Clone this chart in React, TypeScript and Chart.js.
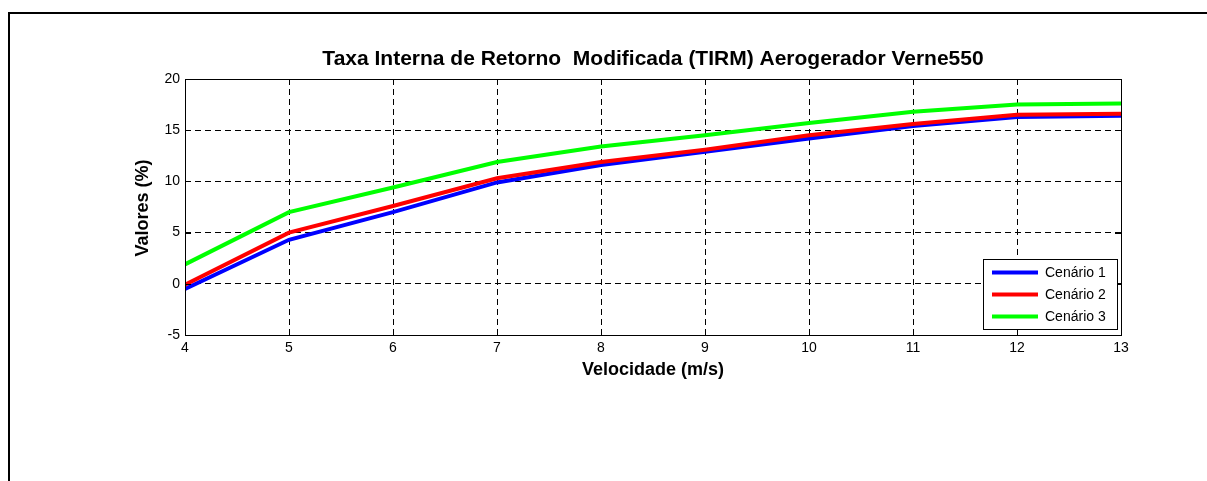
import { useEffect, useRef } from 'react';
import { Chart, registerables } from 'chart.js';

Chart.register(...registerables);

const velocities = [4, 5, 6, 7, 8, 9, 10, 11, 12, 13];
const cenario1 = [-0.5, 4.3, 7.0, 9.9, 11.6, 12.9, 14.2, 15.4, 16.3, 16.4];
const cenario2 = [-0.1, 5.0, 7.6, 10.3, 11.9, 13.1, 14.5, 15.6, 16.5, 16.6];
const cenario3 = [1.9, 7.0, 9.4, 11.9, 13.4, 14.5, 15.7, 16.8, 17.5, 17.6];
const seriesLabels = ['Cenário 1', 'Cenário 2', 'Cenário 3'];
const seriesColors = ['#0000ff', '#ff0000', '#00ff00'];
const chartTitle = 'Taxa Interna de Retorno  Modificada (TIRM) Aerogerador Verne550';
const xTitle = 'Velocidade (m/s)';
const yTitle = 'Valores (%)';
const xMin = 4;
const xMax = 13;
const yMin = -5;
const yMax = 20;

const FONT = '"Liberation Sans", Arial, Helvetica, sans-serif';

const decorPlugin = {
  id: 'decor',
  beforeDraw(chart: any) {
    const ctx = chart.ctx;
    ctx.save();
    ctx.fillStyle = '#ffffff';
    ctx.fillRect(0, 0, chart.width, chart.height);
    ctx.restore();
  },
  afterDraw(chart: any) {
    const ctx = chart.ctx;
    const { left, top, right, bottom } = chart.chartArea;
    const xs = chart.scales.x;
    const ys = chart.scales.y;
    ctx.save();
    // outer frame
    ctx.fillStyle = '#000';
    ctx.fillRect(8, 12, chart.width - 8, 2);
    ctx.fillRect(8, 12, 2, chart.height - 12);
    // plot box
    ctx.strokeStyle = '#000';
    ctx.lineWidth = 1;
    ctx.setLineDash([]);
    ctx.strokeRect(left + 0.5, top + 0.5, right - left, bottom - top);
    // inward ticks
    const tl = 6;
    ctx.beginPath();
    xs.ticks.forEach((t: any) => {
      const px = Math.round(xs.getPixelForValue(t.value)) + 0.5;
      ctx.moveTo(px, bottom);
      ctx.lineTo(px, bottom - tl);
      ctx.moveTo(px, top);
      ctx.lineTo(px, top + tl);
    });
    ys.ticks.forEach((t: any) => {
      const py = Math.round(ys.getPixelForValue(t.value)) + 0.5;
      ctx.moveTo(left, py);
      ctx.lineTo(left + tl, py);
      ctx.moveTo(right, py);
      ctx.lineTo(right - tl, py);
    });
    ctx.stroke();
    // titles
    ctx.fillStyle = '#000';
    ctx.textAlign = 'center';
    ctx.textBaseline = 'alphabetic';
    ctx.font = 'bold 21px ' + FONT;
    ctx.fillText(chartTitle, (left + right) / 2, 65);
    ctx.font = 'bold 18px ' + FONT;
    ctx.fillText(xTitle, (left + right) / 2, 375);
    ctx.save();
    ctx.translate(148, (top + bottom) / 2 + 1);
    ctx.rotate(-Math.PI / 2);
    ctx.fillText(yTitle, 0, 0);
    ctx.restore();
    // legend
    const lx = 983;
    const ly = 259;
    const lw = 134;
    const lh = 70;
    ctx.fillStyle = '#fff';
    ctx.fillRect(lx, ly, lw, lh);
    ctx.strokeStyle = '#000';
    ctx.lineWidth = 1;
    ctx.strokeRect(lx + 0.5, ly + 0.5, lw, lh);
    ctx.font = '14px ' + FONT;
    ctx.textAlign = 'left';
    ctx.textBaseline = 'middle';
    seriesLabels.forEach((label, i) => {
      const yy = 272.5 + i * 22;
      ctx.strokeStyle = seriesColors[i];
      ctx.lineWidth = 4;
      ctx.beginPath();
      ctx.moveTo(992, yy);
      ctx.lineTo(1038, yy);
      ctx.stroke();
      ctx.fillStyle = '#000';
      ctx.fillText(label, 1045, yy + 1);
    });
    ctx.restore();
  },
};

export default function App() {
  const canvasRef = useRef<HTMLCanvasElement | null>(null);

  useEffect(() => {
    if (!canvasRef.current) return;
    const seriesValues = [cenario1, cenario2, cenario3];
    const chart = new Chart(canvasRef.current, {
      type: 'line',
      data: {
        datasets: seriesValues.map((vals, i) => ({
          label: seriesLabels[i],
          data: velocities.map((v, j) => ({ x: v, y: vals[j] })),
          borderColor: seriesColors[i],
          backgroundColor: seriesColors[i],
          borderWidth: 4,
          pointRadius: 0,
          tension: 0,
          fill: false,
          order: 3 - i,
        })),
      },
      options: {
        responsive: false,
        maintainAspectRatio: false,
        devicePixelRatio: 1,
        animation: false,
        layout: { padding: { top: 79, right: 86, left: 0, bottom: 0 } },
        plugins: {
          legend: { display: false },
          title: { display: false },
          tooltip: { enabled: false },
        },
        scales: {
          x: {
            type: 'linear',
            min: xMin,
            max: xMax,
            afterFit: (s: any) => {
              s.height = 146;
            },
            ticks: {
              stepSize: 1,
              padding: 5,
              color: '#000',
              font: { family: FONT, size: 14 },
            },
            grid: { color: '#000', lineWidth: 1, drawTicks: false },
            border: { display: false, dash: [6, 4] },
          },
          y: {
            type: 'linear',
            min: yMin,
            max: yMax,
            afterFit: (s: any) => {
              s.width = 185;
            },
            ticks: {
              stepSize: 5,
              padding: 5,
              color: '#000',
              font: { family: FONT, size: 14 },
            },
            grid: { color: '#000', lineWidth: 1, drawTicks: false },
            border: { display: false, dash: [6, 4] },
          },
        },
      },
      plugins: [decorPlugin],
    } as any);
    return () => chart.destroy();
  }, []);

  return (
    <div style={{ position: 'fixed', left: 0, top: 0, width: 1207, height: 481, background: '#fff' }}>
      <canvas ref={canvasRef} width={1207} height={481} style={{ display: 'block', width: 1207, height: 481 }} />
    </div>
  );
}
